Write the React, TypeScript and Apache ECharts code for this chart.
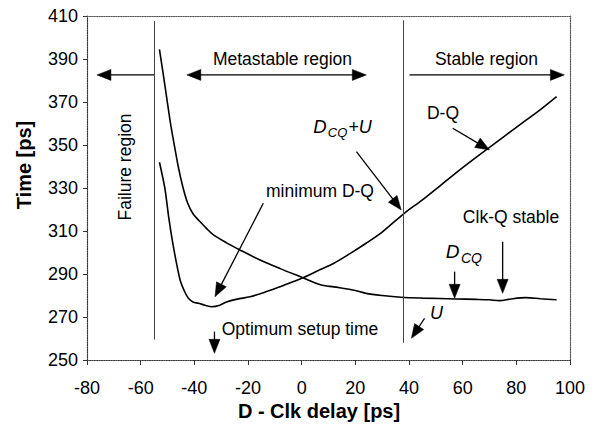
import React, { useEffect, useRef } from "react";
import * as echarts from "echarts";

// ---- data ----
const xTickValues = [-80, -60, -40, -20, 0, 20, 40, 60, 80, 100];
const yTickValues = [250, 270, 290, 310, 330, 350, 370, 390, 410];

// D-Q curve (goes through a minimum then rises)
const dqX = [-53, -51, -49.5, -47.8, -45.3, -43.5, -42.2, -40.5, -38.5, -36, -33.5, -30.5, -28, -24, -19.3, -14, -8, -4, 0, 6, 12, 18, 24, 30, 38, 45, 52, 60, 69, 76, 83, 89, 95];
const dqY = [342, 330, 316, 302.7, 287.2, 281.5, 278.7, 277, 276.4, 275.5, 274.8, 275.5, 277, 278.3, 279.4, 281.4, 284.1, 286, 288, 291.5, 295, 299.5, 304.3, 309.5, 318, 324.5, 331.5, 339.5, 348, 354.5, 361, 366.5, 372.5];

// Clk-Q curve (falls and levels off)
const cqX = [-53, -51, -49, -47.8, -46, -44.3, -42.5, -40.5, -38, -35.5, -33, -28, -23, -15.5, -8, 0, 7, 12, 19, 24, 30, 37, 45, 57.6, 65, 70, 73.7, 78, 83.6, 89, 95];
const cqY = [394.5, 378, 361, 352.3, 340, 330.6, 323, 318, 314.5, 311.2, 308.3, 304.5, 301.2, 296.5, 292.5, 288.5, 285, 284, 282.6, 281, 280, 279.2, 278.8, 278.4, 278.2, 278, 277.6, 278.4, 279, 278.5, 278];

// region boundaries (x position, y from, y to)
const boundaryX = [-55, 38];
const boundaryY0 = [259.5, 258];
const boundaryY1 = [407.7, 408];

// annotation arrows in data coordinates
const arrowFromX = [-55, -42.8, 40.2, 56.3, 20.4, -14.3, 74.9, 57, 45.8, -32.5];
const arrowFromY = [382.6, 382.6, 382.6, 357.8, 346.9, 322.9, 305, 291.1, 269.4, 263.2];
const arrowToX = [-76.3, 24.1, 97.9, 70.0, 37.1, -32.3, 74.9, 57, 40.9, -32.5];
const arrowToY = [382.6, 382.6, 382.6, 347.7, 319.8, 279.4, 281, 278.7, 260.1, 253.1];
const arrowDouble = [false, true, false, false, false, false, false, false, false, false];

const FONT = "'Liberation Sans', Arial, sans-serif";

export default function App() {
  const ref = useRef<HTMLDivElement>(null);

  useEffect(() => {
    document.body.style.margin = "0";
    if (!ref.current) return;
    const chart = echarts.init(ref.current, undefined, { renderer: "svg" });

    const axisCommon = {
      type: "value" as const,
      splitLine: { show: false },
    };

    const option: any = {
      animation: false,
      backgroundColor: "#fff",
      grid: { left: 87, right: 27, top: 16, bottom: 70 },
      xAxis: [
        {
          ...axisCommon,
          min: xTickValues[0],
          max: xTickValues[xTickValues.length - 1],
          interval: 20,
          axisLine: { show: true, onZero: false, lineStyle: { color: "#333", type: "dotted", width: 1.2 } },
          axisTick: { show: true, length: 5, inside: false, lineStyle: { color: "#333" } },
          axisLabel: { color: "#000", fontSize: 18, fontFamily: FONT, margin: 19 },
        },
        {
          ...axisCommon,
          position: "top",
          min: xTickValues[0],
          max: xTickValues[xTickValues.length - 1],
          axisLine: { show: true, onZero: false, lineStyle: { color: "#555", type: "dotted", width: 1.2 } },
          axisTick: { show: false },
          axisLabel: { show: false },
        },
      ],
      yAxis: [
        {
          ...axisCommon,
          min: yTickValues[0],
          max: yTickValues[yTickValues.length - 1],
          interval: 20,
          axisLine: { show: true, onZero: false, lineStyle: { color: "#333", type: "dotted", width: 1.2 } },
          axisTick: { show: true, length: 4, inside: false, lineStyle: { color: "#333" } },
          axisLabel: { color: "#000", fontSize: 18, fontFamily: FONT, margin: 9 },
        },
        {
          ...axisCommon,
          position: "right",
          min: yTickValues[0],
          max: yTickValues[yTickValues.length - 1],
          axisLine: { show: true, onZero: false, lineStyle: { color: "#555", type: "dotted", width: 1.2 } },
          axisTick: { show: false },
          axisLabel: { show: false },
        },
      ],
      series: [
        {
          name: "D-Q",
          type: "line",
          xAxisIndex: 0,
          yAxisIndex: 0,
          data: dqX.map((x, i) => [x, dqY[i]]),
          showSymbol: false,
          smooth: 0.3,
          lineStyle: { color: "#000", width: 1.6 },
          silent: true,
          markLine: {
            silent: true,
            symbol: "none",
            label: { show: false },
            lineStyle: { type: "solid", color: "#444", width: 1 },
            data: boundaryX.map((x, i) => [
              { coord: [x, boundaryY0[i]] },
              { coord: [x, boundaryY1[i]] },
            ]),
          },
        },
        {
          name: "Clk-Q",
          type: "line",
          xAxisIndex: 0,
          yAxisIndex: 0,
          data: cqX.map((x, i) => [x, cqY[i]]),
          showSymbol: false,
          smooth: 0.3,
          lineStyle: { color: "#000", width: 1.6 },
          silent: true,
        },
      ],
    };

    chart.setOption(option);

    const txt = (text: string, x: number, y: number, extra: any = {}) => ({
      type: "text",
      x,
      y,
      silent: true,
      ...(extra.rotation !== undefined ? { rotation: extra.rotation } : {}),
      style: {
        text,
        fill: "#000",
        fontSize: extra.fontSize ?? 17.5,
        fontFamily: FONT,
        fontWeight: extra.fontWeight ?? "normal",
        fontStyle: extra.fontStyle ?? "normal",
        align: extra.align ?? "center",
        textAlign: extra.align ?? "center",
        verticalAlign: "middle",
        textVerticalAlign: "middle",
      },
    });

    const texts = [
      txt("Metastable region", 282.5, 59),
      txt("Stable region", 486.5, 59),
      txt("Failure region", 125, 167, { rotation: Math.PI / 2 }),
      txt("D-Q", 443, 113),
      txt("minimum D-Q", 320, 191),
      txt("Clk-Q stable", 511, 216.5),
      txt("Optimum setup time", 300, 329),
      txt("U", 436.5, 312.5, { fontStyle: "italic", fontSize: 18 }),
      txt("D", 320, 126.5, { fontStyle: "italic", fontSize: 18.5 }),
      txt("CQ", 337.5, 132, { fontStyle: "italic", fontSize: 13 }),
      txt("+U", 360, 126.5, { fontStyle: "italic", fontSize: 18 }),
      txt("D", 452.5, 251.5, { fontStyle: "italic", fontSize: 19 }),
      txt("CQ", 471.5, 258, { fontStyle: "italic", fontSize: 14 }),
      txt("Time [ps]", 23.5, 165, { rotation: Math.PI / 2, fontWeight: "bold", fontSize: 20 }),
      txt("D - Clk delay [ps]", 319, 410.5, { fontWeight: "bold", fontSize: 20 }),
    ];

    const headLen = 14;
    const headW = 11;
    const arrowEls: any[] = [];
    const head = (tip: number[], ux: number, uy: number) => {
      const bx = tip[0] - ux * headLen;
      const by = tip[1] - uy * headLen;
      const px = -uy, py = ux;
      return {
        type: "polygon",
        silent: true,
        shape: {
          points: [
            [tip[0], tip[1]],
            [bx + (px * headW) / 2, by + (py * headW) / 2],
            [bx - (px * headW) / 2, by - (py * headW) / 2],
          ],
        },
        style: { fill: "#000", stroke: "#000", lineWidth: 0.5 },
      };
    };
    arrowFromX.forEach((fx, i) => {
      const p1 = chart.convertToPixel({ gridIndex: 0 }, [fx, arrowFromY[i]]) as number[];
      const p2 = chart.convertToPixel({ gridIndex: 0 }, [arrowToX[i], arrowToY[i]]) as number[];
      const dx = p2[0] - p1[0];
      const dy = p2[1] - p1[1];
      const L = Math.hypot(dx, dy) || 1;
      const ux = dx / L, uy = dy / L;
      const s = arrowDouble[i] ? [p1[0] + ux * (headLen - 2), p1[1] + uy * (headLen - 2)] : p1;
      const e = [p2[0] - ux * (headLen - 2), p2[1] - uy * (headLen - 2)];
      arrowEls.push({
        type: "line",
        silent: true,
        shape: { x1: s[0], y1: s[1], x2: e[0], y2: e[1] },
        style: { stroke: "#000", lineWidth: 1.3 },
      });
      arrowEls.push(head(p2, ux, uy));
      if (arrowDouble[i]) arrowEls.push(head(p1, -ux, -uy));
    });

    chart.setOption({ graphic: [...arrowEls, ...texts] });

    return () => {
      chart.dispose();
    };
  }, []);

  return <div ref={ref} style={{ width: 597, height: 430 }} />;
}
